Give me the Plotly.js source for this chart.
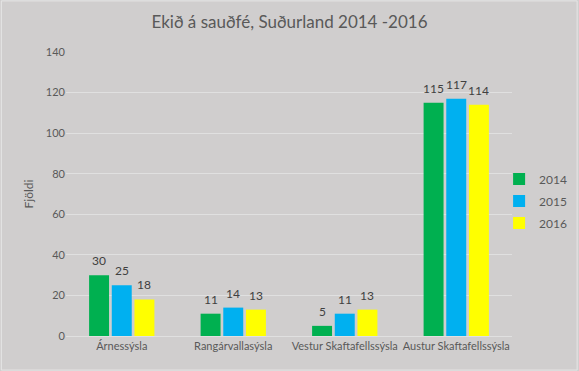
<!DOCTYPE html>
<html><head><meta charset="utf-8">
<script src="https://cdn.plot.ly/plotly-3.0.1.min.js"></script>
<style>html,body{margin:0;padding:0;background:#d0cece;}</style>
</head><body><div id="chart" style="width:579px;height:371px;"></div>
<script>
const categories = ["Árnessýsla", "Rangárvallasýsla", "Vestur Skaftafellssýsla", "Austur Skaftafellssýsla"];
const years = ["2014", "2015", "2016"];
const v2014 = [30, 11, 5, 115];
const v2015 = [25, 14, 11, 117];
const v2016 = [18, 13, 13, 114];
const colors = ["#00b050", "#00b0f0", "#ffff00"];
const series = [v2014, v2015, v2016];
const font = "Lato, 'Open Sans', sans-serif";
const bargap = 0.39;
const traces = series.map((vals, i) => ({
  type: "bar", name: years[i], x: categories, y: vals, legendgroup: years[i],
  marker: {color: colors[i]},
  hoverinfo: "none"
}));
// data labels as annotations, shifted by bar slot within group
const slotPx = (446 / categories.length) * (1 - bargap) / series.length;
const annotations = [];
series.forEach((vals, i) => {
  vals.forEach((v, j) => {
    annotations.push({x: categories[j], y: v, xref: "x", yref: "y", text: String(v), showarrow: false,
      xshift: (i - 1) * slotPx, yanchor: "bottom", yshift: 5,
      font: {family: font, size: 12, color: "#404040"}});
  });
});
const layout = {
  width: 579, height: 371,
  paper_bgcolor: "#d0cece", plot_bgcolor: "#d0cece",
  margin: {l: 66, r: 67, t: 52, b: 35, autoexpand: false},
  title: {text: "Ekið á sauðfé, Suðurland 2014 -2016", x: 0.5, xanchor: "center", y: 0.94, yanchor: "middle",
          font: {family: font, size: 17, color: "#595959"}},
  barmode: "group", bargap: bargap, bargroupgap: 0.12,
  xaxis: {tickangle: 0, automargin: false, tickfont: {family: font, size: 11, color: "#595959"}, showline: true, linecolor: "#e0e0e0", linewidth: 1, ticks: "", fixedrange: true},
  yaxis: {range: [0, 140], dtick: 20, automargin: false, tickfont: {family: font, size: 11, color: "#595959"},
          gridcolor: "#e0e0e0", gridwidth: 1, zeroline: false, ticks: "", ticklen: 0,
          title: {text: "Fjöldi", font: {family: font, size: 12, color: "#595959"}, standoff: 9}},
  legend: {xref: "container", yref: "container", x: 0.862, y: 0.458, yanchor: "middle", xanchor: "left",
           font: {family: font, size: 12, color: "#595959"},
           bgcolor: "rgba(0,0,0,0)", itemwidth: 30, traceorder: "grouped", tracegroupgap: 3},
  annotations: annotations,
  shapes: [{type: "rect", xref: "paper", yref: "paper", x0: -0.145, x1: 1.146, y0: -0.12, y1: 1.18,
            line: {color: "#e6e6e6", width: 1}, fillcolor: "rgba(0,0,0,0)"}],
  showlegend: true
};
Plotly.newPlot("chart", traces, layout, {displayModeBar: false, staticPlot: true});
</script></body></html>
